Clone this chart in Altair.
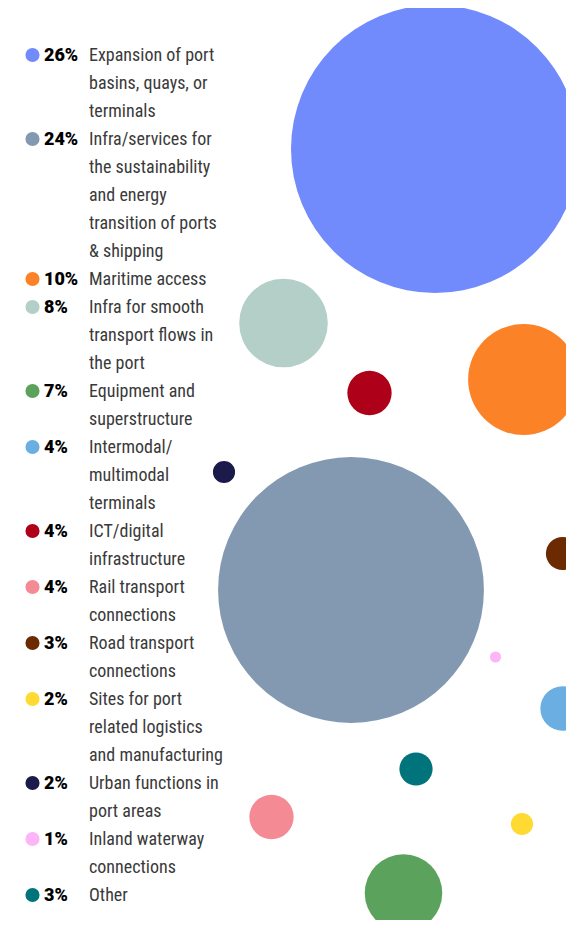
import altair as alt
import pandas as pd

categories = [
    "Expansion of port basins, quays, or terminals",
    "Infra/services for the sustainability and energy transition of ports & shipping",
    "Maritime access",
    "Infra for smooth transport flows in the port",
    "Equipment and superstructure",
    "Intermodal/multimodal terminals",
    "ICT/digital infrastructure",
    "Rail transport connections",
    "Road transport connections",
    "Sites for port related logistics and manufacturing",
    "Urban functions in port areas",
    "Inland waterway connections",
    "Other",
]
label_lines = [
    ["Expansion of port", "basins, quays, or", "terminals"],
    ["Infra/services for", "the sustainability", "and energy", "transition of ports", "& shipping"],
    ["Maritime access"],
    ["Infra for smooth", "transport flows in", "the port"],
    ["Equipment and", "superstructure"],
    ["Intermodal/", "multimodal", "terminals"],
    ["ICT/digital", "infrastructure"],
    ["Rail transport", "connections"],
    ["Road transport", "connections"],
    ["Sites for port", "related logistics", "and manufacturing"],
    ["Urban functions in", "port areas"],
    ["Inland waterway", "connections"],
    ["Other"],
]
pct = [26, 24, 10, 8, 7, 4, 4, 4, 3, 2, 2, 1, 3]
colors = ["#718BFD", "#8399B1", "#FB8227", "#B3CFC8", "#5BA35D", "#6AAEE2", "#AE0018",
          "#F48A93", "#6B2A00", "#FEDA33", "#1A1A4B", "#FDB5F8", "#00747A"]
# bubble layout coordinates
bubble_x = [435, 351, 523.5, 283.5, 403.5, 562.5, 369.5, 271.5, 562.5, 522, 224, 495.5, 416]
bubble_y = [149, 590, 379.5, 323, 893, 708.5, 393, 817, 553.5, 824, 472, 657, 769]

W, H = 558, 912
xs = alt.Scale(domain=[8, 8 + W], range=[0, W])
ys = alt.Scale(domain=[8, 8 + H], range=[0, H])
color_scale = alt.Scale(domain=categories, range=colors)

bubbles = pd.DataFrame({"cat": categories, "pct": pct, "bx": bubble_x, "by": bubble_y})

# legend rows: one row per text line
rows, lines = [], []
line_idx = 0
for c, p, ll in zip(categories, pct, label_lines):
    rows.append({"cat": c, "pct_txt": f"{p}%", "ly": 55 + 28 * line_idx})
    for t in ll:
        lines.append({"txt": t, "ly": 55 + 28 * line_idx})
        line_idx += 1
rows = pd.DataFrame(rows)
lines = pd.DataFrame(lines)

bubble_layer = alt.Chart(bubbles).mark_circle(opacity=1).encode(
    x=alt.X("bx:Q", scale=xs, axis=None),
    y=alt.Y("by:Q", scale=ys, axis=None),
    size=alt.Size("pct:Q", scale=alt.Scale(type="pow", exponent=2, domain=[0, 26], range=[0, 288 * 288]), legend=None),
    color=alt.Color("cat:N", scale=color_scale, legend=None),
)

dots = alt.Chart(rows).mark_circle(opacity=1, size=200).encode(
    x=alt.value(24.5),
    y=alt.Y("ly:Q", scale=ys, axis=None),
    color=alt.Color("cat:N", scale=color_scale, legend=None),
)

pct_text = alt.Chart(rows).mark_text(
    align="left", baseline="middle", font="Roboto", fontSize=18, fontWeight=900, color="#000000", dy=1
).encode(
    x=alt.value(36),
    y=alt.Y("ly:Q", scale=ys, axis=None),
    text="pct_txt:N",
)

label_text = alt.Chart(lines).mark_text(
    align="left", baseline="middle", font="Liberation Sans Narrow, Roboto Condensed, Roboto", fontSize=18,
    color="#3a3a3a", dy=1
).encode(
    x=alt.value(81),
    y=alt.Y("ly:Q", scale=ys, axis=None),
    text="txt:N",
)

chart = alt.layer(bubble_layer, dots, pct_text, label_text).properties(
    width=W, height=H, padding=0, autosize=alt.AutoSizeParams(type="none")
).configure_view(stroke=None)

chart.save("out.html", embed_options={"renderer": "svg", "actions": False})
